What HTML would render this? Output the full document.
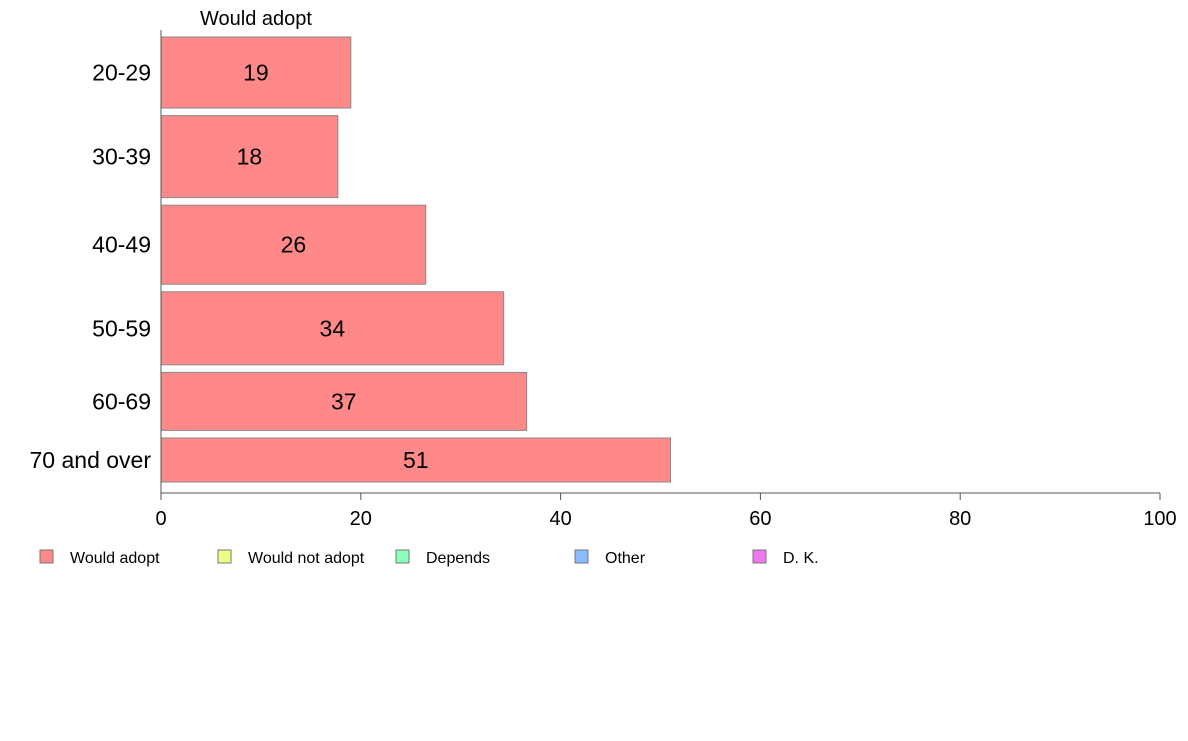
<!DOCTYPE html>
<html><head><meta charset="utf-8"><style>
body{margin:0;background:#fff;font-family:"Liberation Sans",Arial,sans-serif}
svg text{font-family:"Liberation Sans",Arial,sans-serif}
</style></head><body>
<svg id="c" width="1188" height="736"></svg>
<script>
const categories=["20-29","30-39","40-49","50-59","60-69","70 and over"];
const values=[19,17.7,26.5,34.3,36.6,51];
const labels=["19","18","26","34","37","51"];
const groupSizes=[71,82,79,73,58,44];
const ticks=[0,20,40,60,80,100];
const legendItems=["Would adopt","Would not adopt","Depends","Other","D. K."];
const legendColors=["#ff8888","#eeff88","#88ffbb","#88bbff","#ee77ee"];
const NS="http://www.w3.org/2000/svg";
const svg=document.getElementById("c");
const x0=161,x1=1160,yTop=37,gap=7.6;
const xs=v=>x0+(v/100)*(x1-x0);
function mk(t,a,p){const e=document.createElementNS(NS,t);for(const k in a)e.setAttribute(k,a[k]);(p||svg).appendChild(e);return e;}
let t=mk("text",{x:256,y:25,"text-anchor":"middle","font-size":20,fill:"#000"});t.textContent="Would adopt";


let y=yTop;
categories.forEach((c,i)=>{
  const h=groupSizes[i];
  const r=mk("rect",{x:x0,y:y,width:xs(values[i])-x0,height:h,fill:"#ff8888",stroke:"#888","stroke-width":1});
  
  
  const l=mk("text",{x:(x0+xs(values[i]))/2,y:y+h/2+8,"text-anchor":"middle","font-size":23,fill:"#000"});l.textContent=labels[i];
  
  
  const cl=mk("text",{x:151,y:y+h/2+8,"text-anchor":"end","font-size":23,fill:"#000"});cl.textContent=c;
  
  
  y+=h+gap;
});
const ax=mk("line",{x1:x0,x2:x1,y1:493,y2:493,stroke:"#555","stroke-width":1});


const ay=mk("line",{x1:x0,x2:x0,y1:30,y2:493,stroke:"#555","stroke-width":1});


ticks.forEach(v=>{
  const tk=mk("line",{x1:xs(v),x2:xs(v),y1:493,y2:500,stroke:"#555"});
  
  
  const tl=mk("text",{x:xs(v),y:525,"text-anchor":"middle","font-size":20,fill:"#000"});tl.textContent=v;
  
  
});
const lx=[40,218,396,575,753];
legendItems.forEach((n,i)=>{
  const s=mk("rect",{x:lx[i],y:550,width:13,height:13,fill:legendColors[i],stroke:"#777"});
  
  
  const lt=mk("text",{x:lx[i]+30,y:563,"font-size":16,fill:"#000"});lt.textContent=n;
  
  
});
</script>
</body></html>
